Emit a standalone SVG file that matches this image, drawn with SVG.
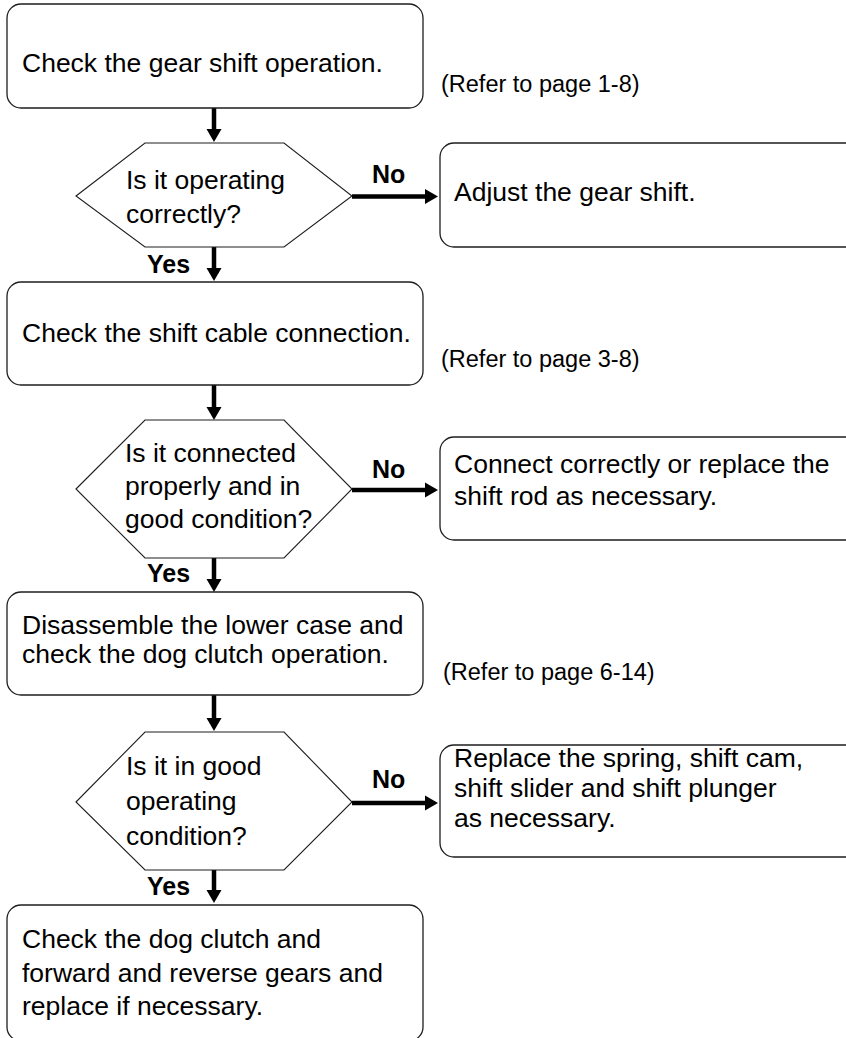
<svg xmlns="http://www.w3.org/2000/svg" width="846" height="1038" viewBox="0 0 846 1038">
<style>
.box{fill:#fff;stroke:#1e1e1e;stroke-width:1.3}
.hex{fill:#fff;stroke:#1e1e1e;stroke-width:1.1}
.t{font-family:"Liberation Sans",Arial,Helvetica,sans-serif;font-size:26.5px;fill:#000}
.ref{font-family:"Liberation Sans",Arial,Helvetica,sans-serif;font-size:23.5px;fill:#000}
.lbl{font-family:"Liberation Sans",Arial,Helvetica,sans-serif;font-size:25px;font-weight:bold;fill:#000}
.arr{stroke:#000;stroke-width:4.5;fill:none;marker-end:url(#ah)}
</style>
<defs>
<marker id="ah" markerUnits="userSpaceOnUse" markerWidth="16" markerHeight="16" viewBox="0 -8 16 16" refX="0" refY="0" orient="auto" overflow="visible">
<path d="M0,-7.5 L13,0 L0,7.5 Z" fill="#000"/>
</marker>
</defs>
<rect width="846" height="1038" fill="#fff"/>

<g id="connectors">
<path class="arr" d="M214,108 V129"/>
<path class="arr" d="M352,196.5 H425"/>
<path class="arr" d="M214,247 V268"/>
<path class="arr" d="M214,385 V407"/>
<path class="arr" d="M352,490 H425"/>
<path class="arr" d="M214,558 V579"/>
<path class="arr" d="M214,695 V718"/>
<path class="arr" d="M352,803 H425"/>
<path class="arr" d="M214,870 V890"/>
<text class="lbl" x="372" y="183">No</text>
<text class="lbl" x="147" y="273">Yes</text>
<text class="lbl" x="372" y="478">No</text>
<text class="lbl" x="147" y="582">Yes</text>
<text class="lbl" x="372" y="788">No</text>
<text class="lbl" x="147" y="895">Yes</text>
</g>

<g id="n1">
<rect class="box" x="7" y="4" width="416" height="104" rx="14"/>
<text class="t" x="22" y="72">Check the gear shift operation.</text>
</g>
<g id="ref1"><text class="ref" x="441" y="92">(Refer to page 1-8)</text></g>

<g id="d1">
<polygon class="hex" points="76,196 145,143 284,143 352,196 284,247 145,247"/>
<text class="t" x="126" y="189">Is it operating</text>
<text class="t" x="126" y="223">correctly?</text>
</g>

<g id="n2">
<rect class="box" x="440" y="143" width="420" height="104" rx="14"/>
<text class="t" x="454" y="201">Adjust the gear shift.</text>
</g>

<g id="n3">
<rect class="box" x="7" y="282" width="416" height="103" rx="14"/>
<text class="t" x="22" y="342">Check the shift cable connection.</text>
</g>
<g id="ref2"><text class="ref" x="441" y="367">(Refer to page 3-8)</text></g>

<g id="d2">
<polygon class="hex" points="76,489 145,420 284,420 352,489 284,558 145,558"/>
<text class="t" x="125" y="462">Is it connected</text>
<text class="t" x="125" y="495">properly and in</text>
<text class="t" x="125" y="528">good condition?</text>
</g>

<g id="n4">
<rect class="box" x="440" y="437" width="420" height="103" rx="14"/>
<text class="t" x="454" y="473">Connect correctly or replace the</text>
<text class="t" x="454" y="505">shift rod as necessary.</text>
</g>

<g id="n5">
<rect class="box" x="7" y="592" width="416" height="103" rx="14"/>
<text class="t" x="22" y="634">Disassemble the lower case and</text>
<text class="t" x="22" y="663">check the dog clutch operation.</text>
</g>
<g id="ref3"><text class="ref" x="443" y="680">(Refer to page 6-14)</text></g>

<g id="d3">
<polygon class="hex" points="76,802 145,732 284,732 352,802 284,870 145,870"/>
<text class="t" x="126" y="775">Is it in good</text>
<text class="t" x="126" y="810">operating</text>
<text class="t" x="126" y="845">condition?</text>
</g>

<g id="n6">
<rect class="box" x="440" y="745" width="420" height="112" rx="14"/>
<text class="t" x="454" y="767">Replace the spring, shift cam,</text>
<text class="t" x="454" y="797">shift slider and shift plunger</text>
<text class="t" x="454" y="827">as necessary.</text>
</g>

<g id="n7">
<rect class="box" x="7" y="905" width="416" height="136" rx="14"/>
<text class="t" x="22" y="948">Check the dog clutch and</text>
<text class="t" x="22" y="982">forward and reverse gears and</text>
<text class="t" x="22" y="1015">replace if necessary.</text>
</g>
</svg>
